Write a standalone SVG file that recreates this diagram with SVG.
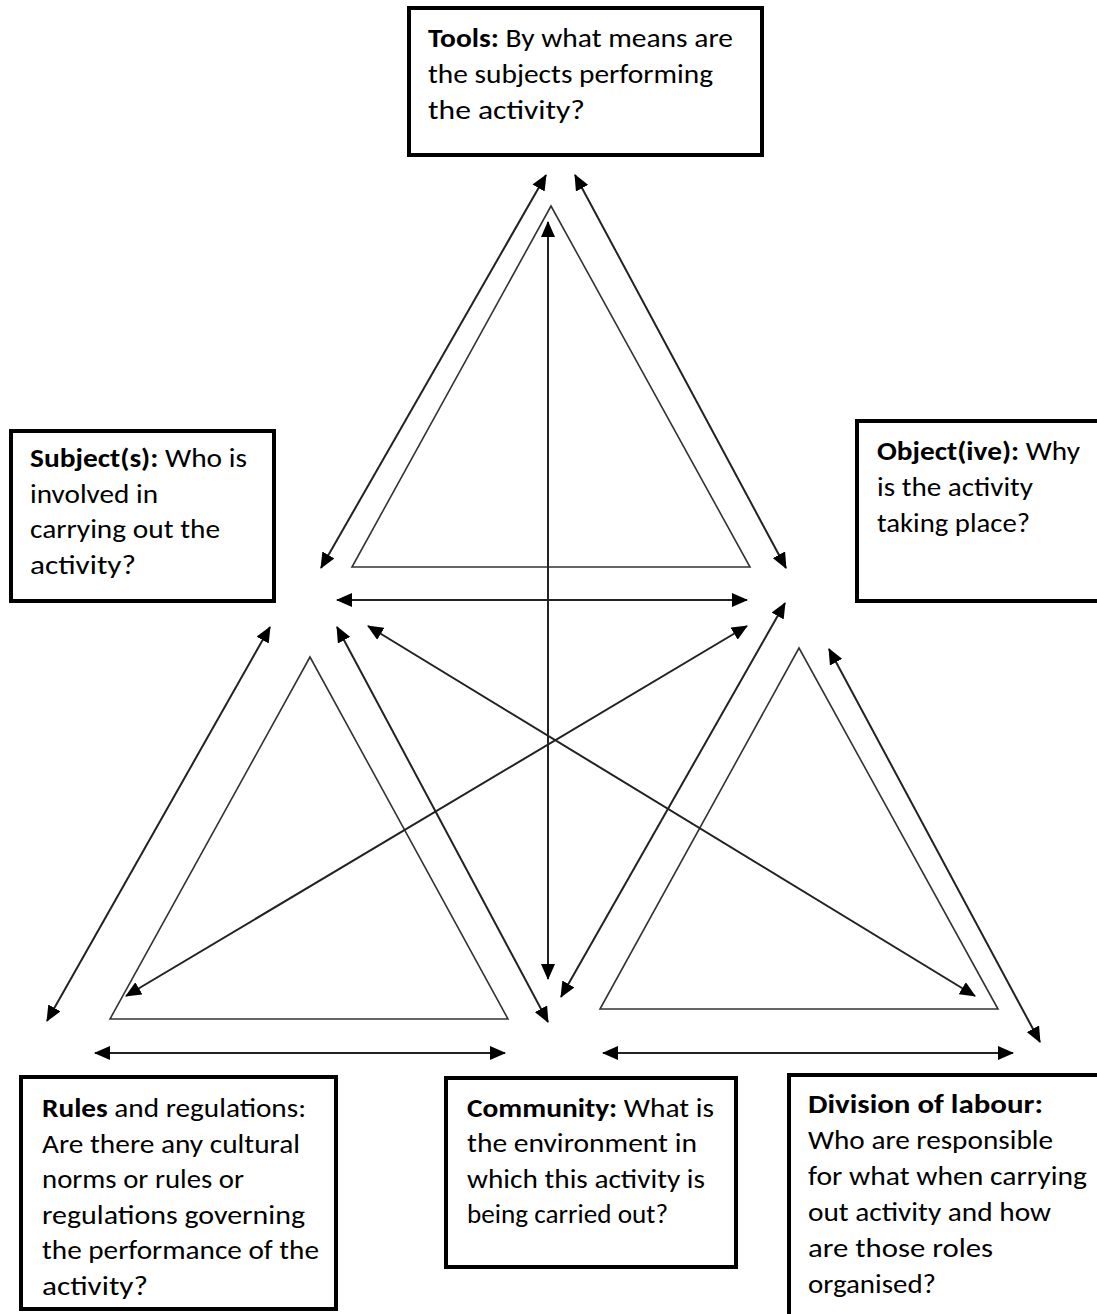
<svg xmlns="http://www.w3.org/2000/svg" width="1097" height="1314" viewBox="0 0 1097 1314">
  <style>
    .box { fill: #ffffff; stroke: #000000; stroke-width: 4; }
    .tri { fill: none; stroke: #333333; stroke-width: 1.6; stroke-linejoin: miter; }
    .link { stroke: #222222; stroke-width: 2; fill: none; marker-start: url(#head); marker-end: url(#head); }
    text { font-family: Carlito, Lato, "Open Sans", sans-serif; font-size: 26px; fill: #000000; }
    .b { font-weight: bold; }
  </style>
  <defs>
    <marker id="head" markerUnits="userSpaceOnUse" markerWidth="16" markerHeight="14" refX="15" refY="7" orient="auto-start-reverse" viewBox="0 0 16 14">
      <path d="M0,0 L16,7 L0,14 z" fill="#000000"/>
    </marker>
  </defs>

  <rect width="1097" height="1314" fill="#ffffff"/>

  <!-- the three inner triangles -->
  <g id="triangles">
    <polygon class="tri" points="551,206 352,567 750,567"/>
    <polygon class="tri" points="310,657 110,1019 508,1019"/>
    <polygon class="tri" points="799,648 600,1009 998,1009"/>
  </g>

  <!-- two-headed connectors between the six corners -->
  <g id="connectors">
    <line class="link" x1="321" y1="568" x2="546" y2="175"/>
    <line class="link" x1="575" y1="175" x2="786" y2="568"/>
    <line class="link" x1="548" y1="222" x2="548" y2="979"/>
    <line class="link" x1="337" y1="600" x2="747" y2="600"/>
    <line class="link" x1="270" y1="627" x2="47" y2="1021"/>
    <line class="link" x1="337" y1="627" x2="548" y2="1022"/>
    <line class="link" x1="368" y1="626" x2="975" y2="996"/>
    <line class="link" x1="747" y1="626" x2="126" y2="996"/>
    <line class="link" x1="785" y1="603" x2="561" y2="997"/>
    <line class="link" x1="829" y1="649" x2="1040" y2="1042"/>
    <line class="link" x1="95" y1="1053" x2="505" y2="1053"/>
    <line class="link" x1="603" y1="1053" x2="1013" y2="1053"/>
  </g>

  <g id="tools">
    <rect class="box" x="409" y="8" width="353" height="147"/>
    <text x="428" y="47" textLength="305" lengthAdjust="spacingAndGlyphs"><tspan class="b">Tools:</tspan> By what means are</text>
    <text x="428" y="83" textLength="285" lengthAdjust="spacingAndGlyphs">the subjects performing</text>
    <text x="428" y="119" textLength="157" lengthAdjust="spacingAndGlyphs">the activity?</text>
  </g>

  <g id="subjects">
    <rect class="box" x="11" y="431" width="263" height="170"/>
    <text x="30" y="467" textLength="217" lengthAdjust="spacingAndGlyphs"><tspan class="b">Subject(s):</tspan> Who is</text>
    <text x="30" y="503" textLength="128" lengthAdjust="spacingAndGlyphs">involved  in</text>
    <text x="30" y="538" textLength="190" lengthAdjust="spacingAndGlyphs">carrying out the</text>
    <text x="30" y="574" textLength="106" lengthAdjust="spacingAndGlyphs">activity?</text>
  </g>

  <g id="objective">
    <rect class="box" x="857" y="421" width="260" height="180"/>
    <text x="877" y="460" textLength="203" lengthAdjust="spacingAndGlyphs"><tspan class="b">Object(ive):</tspan> Why</text>
    <text x="877" y="496" textLength="156" lengthAdjust="spacingAndGlyphs">is the activity</text>
    <text x="877" y="532" textLength="153" lengthAdjust="spacingAndGlyphs">taking place?</text>
  </g>

  <g id="rules">
    <rect class="box" x="21" y="1077" width="315" height="232"/>
    <text x="42" y="1117" textLength="264" lengthAdjust="spacingAndGlyphs"><tspan class="b">Rules</tspan> and regulations:</text>
    <text x="42" y="1153" textLength="258" lengthAdjust="spacingAndGlyphs">Are there any cultural</text>
    <text x="42" y="1188" textLength="202" lengthAdjust="spacingAndGlyphs">norms or rules or</text>
    <text x="42" y="1224" textLength="263" lengthAdjust="spacingAndGlyphs">regulations  governing</text>
    <text x="42" y="1259" textLength="277" lengthAdjust="spacingAndGlyphs">the performance of the</text>
    <text x="42" y="1295" textLength="106" lengthAdjust="spacingAndGlyphs">activity?</text>
  </g>

  <g id="community">
    <rect class="box" x="446" y="1078" width="290" height="189"/>
    <text x="467" y="1117" textLength="247" lengthAdjust="spacingAndGlyphs"><tspan class="b">Community:</tspan> What is</text>
    <text x="467" y="1152" textLength="230" lengthAdjust="spacingAndGlyphs">the environment  in</text>
    <text x="467" y="1188" textLength="238" lengthAdjust="spacingAndGlyphs">which this activity is</text>
    <text x="467" y="1223" textLength="201" lengthAdjust="spacingAndGlyphs">being carried out?</text>
  </g>

  <g id="division">
    <rect class="box" x="789" y="1075" width="330" height="260"/>
    <text x="808" y="1113" textLength="235" lengthAdjust="spacingAndGlyphs"><tspan class="b">Division of labour:</tspan></text>
    <text x="808" y="1149" textLength="245" lengthAdjust="spacingAndGlyphs">Who are responsible</text>
    <text x="808" y="1185" textLength="279" lengthAdjust="spacingAndGlyphs">for what when  carrying</text>
    <text x="808" y="1221" textLength="243" lengthAdjust="spacingAndGlyphs">out activity and how</text>
    <text x="808" y="1257" textLength="185" lengthAdjust="spacingAndGlyphs">are those roles</text>
    <text x="808" y="1293" textLength="128" lengthAdjust="spacingAndGlyphs">organised?</text>
  </g>
</svg>
